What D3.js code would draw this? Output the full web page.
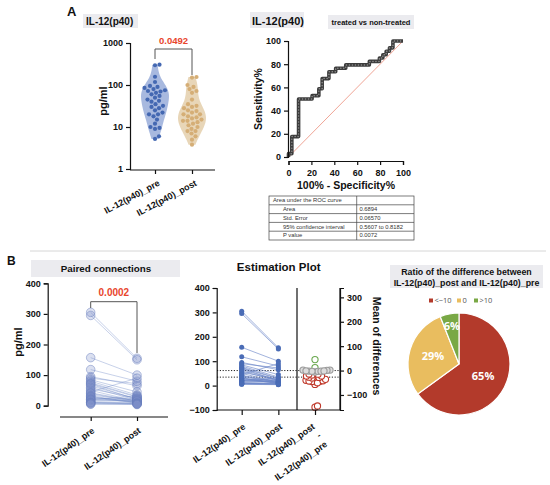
<!DOCTYPE html>
<html>
<head>
<meta charset="utf-8">
<title>IL-12(p40)</title>
<script src="https://d3js.org/d3.v7.min.js"></script>
<style>
  body { margin: 0; background: #fff; }
  svg { display: block; font-family: "Liberation Sans", Arial, sans-serif; }
  text { fill: #111; }
  .axis path, .axis line { stroke: #111; stroke-width: 1.2; }
  .axis text { font-size: 9px; font-weight: bold; fill: #111; font-family: "Liberation Sans", Arial, sans-serif; }
  .title { font-weight: bold; }
</style>
</head>
<body>
<svg width="550" height="485"></svg>
<script>
// ---- data ----
var groupNames = ["IL-12(p40)_pre", "IL-12(p40)_post"];
var pre  = [305, 295, 157, 118, 95, 90, 85, 80, 75, 72, 70, 65, 60, 55, 50, 45, 42, 40, 35, 32, 30, 28, 25, 20, 22, 20, 18, 15, 12, 10, 9.5, 9, 6, 5.2];
var post = [155, 150, 100, 80, 65, 72, 45, 35, 30, 28, 20, 22, 18, 25, 14, 90, 15, 12, 17, 10, 8, 13, 11, 32, 24, 14, 20, 16, 9, 8, 7, 6, 5, 3.8];
var pValueA = "0.0492";
var pValueB = "0.0002";
var logTicks = [1, 10, 100, 1000];

var rocFpr  = [0, 0, 2.9, 2.9, 8.8, 8.8, 20.6, 20.6, 26.5, 26.5, 29.4, 29.4, 35.3, 35.3, 41.2, 41.2, 50, 50, 70.6, 70.6, 79.4, 79.4, 82.4, 82.4, 85.3, 85.3, 88.2, 88.2, 91.2, 91.2, 100];
var rocSens = [0, 2.9, 2.9, 17.6, 17.6, 50, 50, 52.9, 52.9, 58.8, 58.8, 67.6, 67.6, 73.5, 73.5, 76.5, 76.5, 79.4, 79.4, 82.4, 82.4, 85.3, 85.3, 88.2, 88.2, 91.2, 91.2, 94.1, 94.1, 100, 100];
var rocTicks = [0, 20, 40, 60, 80, 100];
var tableLabels = ["Area under the ROC curve", "Area", "Std. Error", "95% confidence interval", "P value"];
var tableValues = ["", "0.6894", "0.06570", "0.5607 to 0.8182", "0.0072"];

var pairTicks = [0, 100, 200, 300, 400];
var estTicks = [-100, 0, 100, 200, 300, 400];
var diffTicks = [-100, 0, 100, 200, 300];

var pieLabels = ["<\u221210", "0", ">10"];
var pieValues = [65, 29, 6];
var pieColors = ["#b33a2b", "#e9bd5f", "#79a845"];

var svg = d3.select("svg");
svg.append("rect").attr("width", 550).attr("height", 485).attr("fill", "#fff");

function titleBox(x, y, w, h, fill) {
  svg.append("rect").attr("x", x).attr("y", y).attr("width", w).attr("height", h).attr("fill", fill || "#ebebef");
}
function label(x, y, txt, size, anchor, color) {
  return svg.append("text").attr("x", x).attr("y", y).attr("class", "title")
    .attr("font-size", size).attr("text-anchor", anchor || "start")
    .style("fill", color || "#111").text(txt);
}
function hline(x1, x2, y) {
  return svg.append("line").attr("x1", x1).attr("x2", x2).attr("y1", y).attr("y2", y)
    .attr("stroke", "#111").attr("stroke-width", 1.2);
}
function rotLabels(g, dx, dy, ang) {
  g.selectAll(".tick text")
    .attr("x", 0).attr("y", 0).attr("dy", 0)
    .attr("text-anchor", "end")
    .attr("transform", "translate(" + dx + "," + dy + ") rotate(" + ang + ")");
}
// simple beeswarm: nudge sideways until no overlap
function swarm(vals, yFn, cx, dist) {
  var order = d3.range(vals.length).sort(function(a, b) { return vals[a] - vals[b]; });
  var placed = [], out = [];
  order.forEach(function(i) {
    var y = yFn(vals[i]);
    for (var k = 0; k < 400; k++) {
      var x = cx + (k % 2 ? 1 : -1) * Math.ceil(k / 2) * 0.5;
      var ok = placed.every(function(p) { return (p[0]-x)*(p[0]-x) + (p[1]-y)*(p[1]-y) >= dist*dist; });
      if (ok) { placed.push([x, y]); out[i] = [x, y]; break; }
    }
  });
  return out;
}

// ================= A : violin =================
label(67, 16, "A", 13);
titleBox(83, 14, 55, 14);
label(86, 25, "IL-12(p40)", 10);

var ay = d3.scaleLog().domain([1, 1000]).range([169, 43]);
var ax = d3.scalePoint().domain(groupNames).range([155, 192]);

function violin(vals, cx, maxHalf, fill) {
  var t = vals.map(function(v) { return Math.log10(v); });
  var lo = d3.min(t), hi = d3.max(t), h = 0.2;
  var grid = d3.range(41).map(function(i) { return lo + (hi - lo) * i / 40; });
  var dens = grid.map(function(g) { return d3.mean(t, function(x) { return Math.exp(-0.5 * Math.pow((g - x) / h, 2)); }); });
  var w = d3.scaleLinear().domain([0, d3.max(dens)]).range([0, maxHalf]);
  var area = d3.area()
    .y(function(d) { return ay(Math.pow(10, d[0])); })
    .x0(function(d) { return cx - w(d[1]); })
    .x1(function(d) { return cx + w(d[1]); })
    .curve(d3.curveBasis);
  svg.append("path").attr("d", area(grid.map(function(g, i) { return [g, dens[i]]; })))
    .attr("fill", fill);
}
violin(pre, ax(groupNames[0]), 14, "#a8b9df");
violin(post, ax(groupNames[1]), 14, "#e8d6b8");

[[pre, "#4468b2", 0], [post, "#d5ae76", 1]].forEach(function(s) {
  var pts = swarm(s[0], ay, ax(groupNames[s[2]]), 4.5);
  svg.append("g").selectAll("circle").data(pts).enter().append("circle")
    .attr("cx", function(d) { return d[0]; }).attr("cy", function(d) { return d[1]; })
    .attr("r", 2.1).attr("fill", s[1]);
});

var gAy = svg.append("g").attr("class", "axis").attr("transform", "translate(130,0)")
  .call(d3.axisLeft(ay).tickValues(logTicks).tickFormat(d3.format("d")).tickSizeOuter(0).tickSize(4));
var gAx = svg.append("g").attr("class", "axis").attr("transform", "translate(0,170)")
  .call(d3.axisBottom(ax).tickSizeOuter(0).tickSize(4));
gAx.select(".domain").remove();
hline(130, 215, 170);
rotLabels(gAx, 5, 15, -28);
svg.append("text").attr("class", "title").attr("font-size", 11)
  .attr("transform", "translate(107,101) rotate(-90)").attr("text-anchor", "middle").text("pg/ml");

svg.append("path").attr("fill", "none").attr("stroke", "#555").attr("stroke-width", 1)
  .attr("d", "M" + ax(groupNames[0]) + ",59V49H" + ax(groupNames[1]) + "V75");
label((ax(groupNames[0]) + ax(groupNames[1])) / 2, 44, pValueA, 9.5, "middle", "#e8452c");

// ================= A : ROC =================
titleBox(250, 12, 54, 16);
label(252, 24.5, "IL-12(p40)", 11);
titleBox(328, 15, 86, 14);
label(371, 25, "treated vs non-treated", 7.5, "middle");

var rx = d3.scaleLinear().domain([0, 100]).range([288.5, 403]);
var ry = d3.scaleLinear().domain([0, 100]).range([157, 41]);
svg.append("line").attr("x1", rx(0)).attr("y1", ry(0)).attr("x2", rx(100)).attr("y2", ry(100))
  .attr("stroke", "#f0a596").attr("stroke-width", 1);
var rocLine = d3.line().x(function(d) { return rx(d[0]); }).y(function(d) { return ry(d[1]); });
var rocPts = rocFpr.map(function(f, i) { return [f, rocSens[i]]; });
svg.append("path").attr("d", rocLine(rocPts)).attr("fill", "none")
  .attr("stroke", "#3c3c3c").attr("stroke-width", 3.6).attr("stroke-linejoin", "round");
svg.append("path").attr("d", rocLine(rocPts)).attr("fill", "none")
  .attr("stroke", "#8e8e8e").attr("stroke-width", 1.5).attr("stroke-linecap", "round")
  .attr("stroke-dasharray", "0.1,2.9");

var gRy = svg.append("g").attr("class", "axis").attr("transform", "translate(288,0)")
  .call(d3.axisLeft(ry).tickValues(rocTicks).tickSizeOuter(0).tickSize(4));
var gRx = svg.append("g").attr("class", "axis").attr("transform", "translate(0,161)")
  .call(d3.axisBottom(rx).tickValues(rocTicks).tickSizeOuter(0).tickSize(4));
gRx.selectAll(".tick text").attr("dy", "0.9em");
svg.append("text").attr("class", "title").attr("font-size", 10.5)
  .attr("transform", "translate(262,99) rotate(-90)").attr("text-anchor", "middle").text("Sensitivity%");
label(346, 188.5, "100% - Specificity%", 10.5, "middle");

// table
var tRow = 8.8, tTop = 196, tLeft = 269, tMid = 356.7, tRight = 414;
var gT = svg.append("g");
gT.append("rect").attr("x", tLeft).attr("y", tTop).attr("width", tRight - tLeft)
  .attr("height", tRow * tableLabels.length).attr("fill", "none").attr("stroke", "#444").attr("stroke-width", 0.7);
gT.append("line").attr("x1", tMid).attr("x2", tMid).attr("y1", tTop).attr("y2", tTop + tRow * tableLabels.length)
  .attr("stroke", "#444").attr("stroke-width", 0.7);
tableLabels.forEach(function(t, i) {
  if (i > 0) gT.append("line").attr("x1", tLeft).attr("x2", tRight).attr("y1", tTop + i * tRow).attr("y2", tTop + i * tRow)
    .attr("stroke", "#444").attr("stroke-width", 0.7);
  gT.append("text").attr("x", i ? 283 : 273).attr("y", tTop + i * tRow + 6.2).attr("font-size", 5.8)
    .style("fill", "#333").text(t);
  gT.append("text").attr("x", 359.5).attr("y", tTop + i * tRow + 6.2).attr("font-size", 5.8)
    .style("fill", "#333").text(tableValues[i]);
});

// separator
svg.append("line").attr("x1", 30).attr("x2", 546).attr("y1", 251).attr("y2", 251)
  .attr("stroke", "#d6d6d6").attr("stroke-width", 1);

// ================= B : paired connections =================
label(7, 265, "B", 12);
titleBox(31, 260, 149, 17);
label(106, 272, "Paired connections", 9.8, "middle");

var py = d3.scaleLinear().domain([0, 400]).range([405.7, 283.3]);
var px = d3.scalePoint().domain(groupNames).range([90.7, 137]);
var gP = svg.append("g");
pre.forEach(function(v, i) {
  gP.append("line").attr("x1", px(groupNames[0])).attr("y1", py(v))
    .attr("x2", px(groupNames[1])).attr("y2", py(post[i]))
    .attr("stroke", "#6d86c6").attr("stroke-opacity", 0.55).attr("stroke-width", 0.7);
});
[[pre, 0], [post, 1]].forEach(function(s) {
  gP.append("g").selectAll("circle").data(s[0]).enter().append("circle")
    .attr("cx", px(groupNames[s[1]])).attr("cy", function(d) { return py(d); }).attr("r", 4.3)
    .attr("fill", "#7d90c8").attr("fill-opacity", 0.28)
    .attr("stroke", "#6a7fbd").attr("stroke-opacity", 0.6).attr("stroke-width", 0.8);
});
svg.append("g").attr("class", "axis").attr("transform", "translate(47.7,0)")
  .call(d3.axisLeft(py).tickValues(pairTicks).tickSizeOuter(0).tickSize(4));
var gPx = svg.append("g").attr("class", "axis").attr("transform", "translate(0,417)")
  .call(d3.axisBottom(px).tickSizeOuter(0).tickSize(4));
gPx.select(".domain").remove();
hline(60, 168, 417);
rotLabels(gPx, 4, 15, -35);
svg.append("text").attr("class", "title").attr("font-size", 11)
  .attr("transform", "translate(22,342) rotate(-90)").attr("text-anchor", "middle").text("pg/ml");
svg.append("path").attr("fill", "none").attr("stroke", "#555").attr("stroke-width", 1)
  .attr("d", "M" + px(groupNames[0]) + ",308V301.7H" + px(groupNames[1]) + "V353");
label((px(groupNames[0]) + px(groupNames[1])) / 2, 296, pValueB, 10, "middle", "#e8452c");

// ================= B : estimation plot =================
label(278.7, 271, "Estimation Plot", 11.5, "middle");
var diffName = "diff";
var ex = d3.scalePoint().domain(groupNames.concat([diffName])).range([241.7, 315]);
var ey = d3.scaleLinear().domain([-100, 400]).range([410, 288]);
var meanPre = d3.mean(pre), meanPost = d3.mean(post);
var eyR = d3.scaleLinear().domain([-100 - meanPre, 400 - meanPre]).range([410, 288]);
var diffs = pre.map(function(v, i) { return post[i] - v; });

[meanPre, meanPost].forEach(function(m) {
  svg.append("line").attr("x1", 217).attr("x2", 340).attr("y1", ey(m)).attr("y2", ey(m))
    .attr("stroke", "#222").attr("stroke-width", 1).attr("stroke-dasharray", "1.2,1.6");
});
pre.forEach(function(v, i) {
  svg.append("line").attr("x1", ex(groupNames[0])).attr("y1", ey(v))
    .attr("x2", ex(groupNames[1])).attr("y2", ey(post[i]))
    .attr("stroke", "#6b86c8").attr("stroke-width", 0.8).attr("stroke-opacity", 0.8);
});
[[pre, 0], [post, 1]].forEach(function(s) {
  svg.append("g").selectAll("circle").data(s[0]).enter().append("circle")
    .attr("cx", ex(groupNames[s[1]])).attr("cy", function(d) { return ey(d); })
    .attr("r", 2.5).attr("fill", "#4a6cb6");
});
var dPts = swarm(diffs, eyR, ex(diffName), 2.7);
var diffColor = function(d) { return d < -10 ? "#c0392b" : (d > 10 ? "#6aa84f" : "#9a9a9a"); };
svg.append("g").selectAll("circle").data(diffs).enter().append("circle")
  .attr("cx", function(d, i) { return dPts[i][0]; }).attr("cy", function(d, i) { return dPts[i][1]; })
  .attr("r", 3.1)
  .attr("fill", function(d) { return d < -10 || d > 10 ? "#fff" : "#dcdcdc"; })
  .attr("stroke", diffColor)
  .attr("stroke-width", 1.1);

svg.append("g").attr("class", "axis").attr("transform", "translate(216.7,0)")
  .call(d3.axisLeft(ey).tickValues(estTicks).tickFormat(d3.format("d")).tickSizeOuter(0).tickSize(4));
svg.append("g").attr("class", "axis").attr("transform", "translate(340,0)")
  .call(d3.axisRight(eyR).tickValues(diffTicks).tickSizeOuter(0).tickSize(4));
svg.append("line").attr("x1", 340).attr("x2", 340).attr("y1", 288).attr("y2", 410).attr("stroke", "#111").attr("stroke-width", 1.2);
svg.append("line").attr("x1", 297).attr("x2", 297).attr("y1", 288).attr("y2", 410).attr("stroke", "#111").attr("stroke-width", 1.2);
var gEx = svg.append("g").attr("class", "axis").attr("transform", "translate(0,410)")
  .call(d3.axisBottom(ex).tickSizeOuter(0).tickSize(5));
gEx.select(".domain").remove();
hline(216.7, 340, 410);
rotLabels(gEx, 4, 18, -35);
gEx.selectAll(".tick text").filter(function(d) { return d === diffName; }).each(function() {
  var t = d3.select(this).text(null);
  t.attr("transform", "translate(" + 0 + "," + 18 + ") rotate(-35)");
  ["IL-12(p40)_post", "-", "IL-12(p40)_pre"].forEach(function(s, i) {
    t.append("tspan").attr("x", 0).attr("dy", i ? "1.2em" : 0).text(s);
  });
});
svg.append("text").attr("class", "title").attr("font-size", 10.5)
  .attr("transform", "translate(373,346) rotate(90)").attr("text-anchor", "middle").text("Mean of differences");

// ================= B : pie =================
titleBox(390, 265, 153, 23);
label(466.5, 275, "Ratio of the difference between", 8.8, "middle");
label(466.5, 286, "IL-12(p40)_post and IL-12(p40)_pre", 8.8, "middle");

var legX = [429, 457, 474];
pieLabels.forEach(function(t, i) {
  svg.append("rect").attr("x", legX[i]).attr("y", 298.5).attr("width", 4).attr("height", 4).attr("fill", pieColors[i]);
  svg.append("text").attr("x", legX[i] + 5.5).attr("y", 303).attr("font-size", 7.5)
    .style("font-family", "'Open Sans', sans-serif").style("fill", "#555").text(t);
});

var pieR = 51;
var arcs = d3.pie().sort(null).value(function(d) { return d; })(pieValues);
var arc = d3.arc().innerRadius(0).outerRadius(pieR);
var gPie = svg.append("g").attr("transform", "translate(459,364)");
gPie.selectAll("path").data(arcs).enter().append("path")
  .attr("d", arc).attr("fill", function(d, i) { return pieColors[i]; })
  .attr("stroke", "#fff").attr("stroke-width", 1.2);
gPie.selectAll("text").data(arcs).enter().append("text")
  .attr("transform", function(d) {
    var lr = d.value < 10 ? pieR * 0.76 : pieR * 0.53;
    return "translate(" + d3.arc().innerRadius(lr).outerRadius(lr).centroid(d) + ")";
  })
  .attr("dy", "0.36em").attr("text-anchor", "middle")
  .style("font-family", "'Open Sans', sans-serif").style("font-weight", "bold")
  .attr("font-size", 11).style("fill", "#fff")
  .text(function(d) { return d.value + "%"; });
</script>
</body>
</html>
